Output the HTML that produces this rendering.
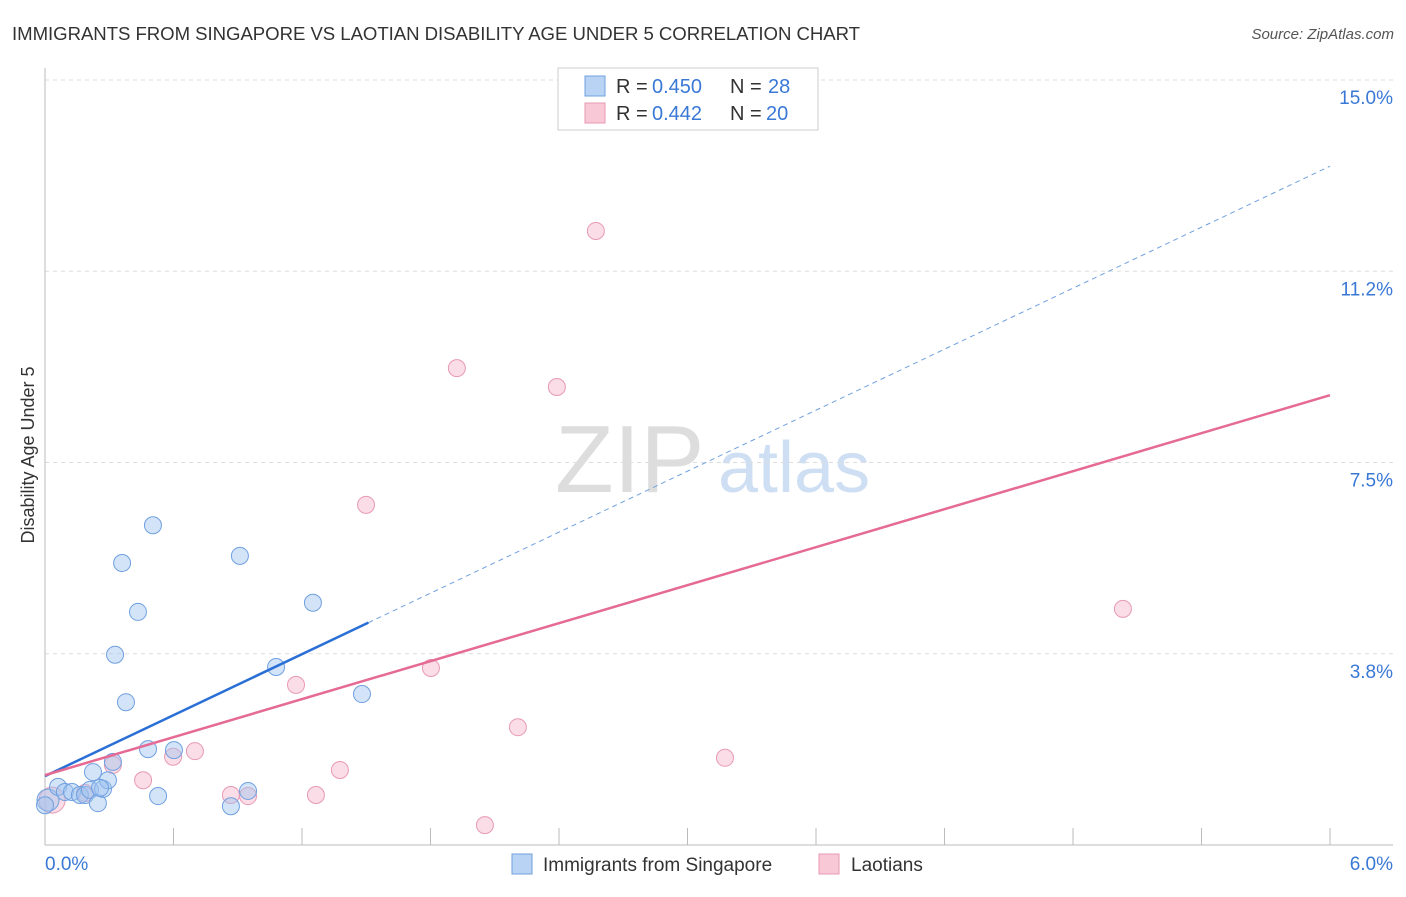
<!DOCTYPE html>
<html><head><meta charset="utf-8"><style>
body{margin:0;background:#fff;font-family:"Liberation Sans",sans-serif}
svg text{font-family:"Liberation Sans",sans-serif}
</style></head><body>
<svg id="c" width="1406" height="892">
<text x="12" y="40" font-size="18.6" fill="#333" textLength="848">IMMIGRANTS FROM SINGAPORE VS LAOTIAN DISABILITY AGE UNDER 5 CORRELATION CHART</text>
<text x="1394" y="39" font-size="15" fill="#555" text-anchor="end" font-style="italic">Source: ZipAtlas.com</text>
<text x="34" y="455" font-size="18" fill="#333" transform="rotate(-90 34 455)" text-anchor="middle">Disability Age Under 5</text>
<text x="555" y="492" font-size="96" fill="#ddd" font-family="Liberation Serif">ZIP</text>
<text x="718" y="492" font-size="72" fill="#cfdff3">atlas</text>
<g id="grid"></g><g id="marks"></g>
<g>
<rect x="558" y="68" width="260" height="62" fill="#fff" stroke="#ccc"/>
<rect x="585" y="76" width="20" height="20" fill="#b9d3f5" stroke="#6fa0e0"/>
<text x="616" y="93" font-size="20" fill="#333">R =</text>
<text x="652" y="93" font-size="20" fill="#3a78d6">0.450</text>
<text x="730" y="93" font-size="20" fill="#333">N =</text>
<text x="768" y="93" font-size="20" fill="#3a78d6">28</text>
<rect x="585" y="103" width="20" height="20" fill="#f9c8d6" stroke="#e89ab3"/>
<text x="616" y="120" font-size="20" fill="#333">R =</text>
<text x="652" y="120" font-size="20" fill="#3a78d6">0.442</text>
<text x="730" y="120" font-size="20" fill="#333">N =</text>
<text x="766" y="120" font-size="20" fill="#3a78d6">20</text>
</g>
<g>
<rect x="512" y="854" width="20" height="20" fill="#b9d3f5" stroke="#6fa0e0"/>
<text x="543" y="871" font-size="19" fill="#333">Immigrants from Singapore</text>
<rect x="819" y="854" width="20" height="20" fill="#f9c8d6" stroke="#e89ab3"/>
<text x="851" y="871" font-size="19" fill="#333">Laotians</text>
</g>
</svg>
<script>
const blueX=[0.014,0.061,0.093,0.126,0.163,0.187,0.21,0.247,0.224,0.271,0.294,0.317,0.327,0.36,0.378,0.434,0.481,0.504,0.528,0.602,0.868,0.91,0.948,1.079,1.251,1.48,0,0.257];
const blueY=[0.88,1.14,1.04,1.04,0.98,0.98,1.08,0.82,1.43,1.10,1.27,1.63,3.73,5.53,2.80,4.57,1.88,6.27,0.96,1.86,0.76,5.67,1.06,3.49,4.75,2.96,0.78,1.12];
const pinkX=[0.033,0.187,0.317,0.458,0.598,0.7,0.868,0.948,1.172,1.265,1.377,1.499,1.802,1.923,2.054,2.208,2.39,2.572,3.175,5.033];
const pinkY=[0.88,1.02,1.57,1.27,1.73,1.84,0.98,0.96,3.14,0.98,1.47,6.67,3.47,9.35,0.39,2.31,8.98,12.04,1.71,4.63];
const yTicks=[3.75,7.5,11.25,15];
const yTickLabels=["3.8%","7.5%","11.2%","15.0%"];
const blueTrend=[1.35,13.31]; const blueSolidEnd=1.51;
const pinkTrend=[1.37,8.82];
const NS="http://www.w3.org/2000/svg";
const X=v=>45+v*214.17, Y=v=>845-v*51;
function mk(t,a,p){const e=document.createElementNS(NS,t);for(const k in a)e.setAttribute(k,a[k]);p.appendChild(e);return e;}
const g=document.getElementById('grid'), m=document.getElementById('marks');
yTicks.forEach((t,i)=>{
 const l=mk('line',{x1:45,x2:1393,y1:Y(t),y2:Y(t),stroke:'#ddd','stroke-dasharray':'4,4'},g);
 
 
 const tx=mk('text',{x:1393,y:Y(t)+24,'font-size':19,fill:'#3a78d6','text-anchor':'end'},g);tx.textContent=yTickLabels[i];
 
 
});
mk('line',{x1:45,x2:45,y1:68,y2:845,stroke:'#bbb'},g);
mk('line',{x1:45,x2:1393,y1:845,y2:845,stroke:'#bbb'},g);
for(let i=1;i<=10;i++){mk('line',{x1:X(i*0.6),x2:X(i*0.6),y1:828,y2:845,stroke:'#bbb'},g);}
const x0=mk('text',{x:45,y:870,'font-size':19,fill:'#3a78d6'},g);x0.textContent='0.0%';


const x1=mk('text',{x:1393,y:870,'font-size':19,fill:'#3a78d6','text-anchor':'end'},g);x1.textContent='6.0%';


function pts(xs,ys,fill,st,name,big){xs.forEach((v,i)=>{const c=mk('circle',{cx:X(v),cy:Y(ys[i]),r:i===0?big:8.5,fill:fill,stroke:st,'stroke-width':1},m);
 
 });}
pts(pinkX,pinkY,'rgba(245,180,200,0.45)','#e89ab3','laotian-point',13);
pts(blueX,blueY,'rgba(160,195,240,0.45)','#6fa0e0','singapore-point',11);
const bAt=v=>blueTrend[0]+(blueTrend[1]-blueTrend[0])*v/6;
const l1=mk('line',{x1:X(0),y1:Y(bAt(0)),x2:X(blueSolidEnd),y2:Y(bAt(blueSolidEnd)),stroke:'#2a6fd6','stroke-width':2.5},m);


const l2=mk('line',{x1:X(blueSolidEnd),y1:Y(bAt(blueSolidEnd)),x2:X(6),y2:Y(bAt(6)),stroke:'#6fa0e0','stroke-width':1,'stroke-dasharray':'5,4'},m);


const l3=mk('line',{x1:X(0),y1:Y(pinkTrend[0]),x2:X(6),y2:Y(pinkTrend[1]),stroke:'#e56a94','stroke-width':2.5},m);


</script>
</body></html>
